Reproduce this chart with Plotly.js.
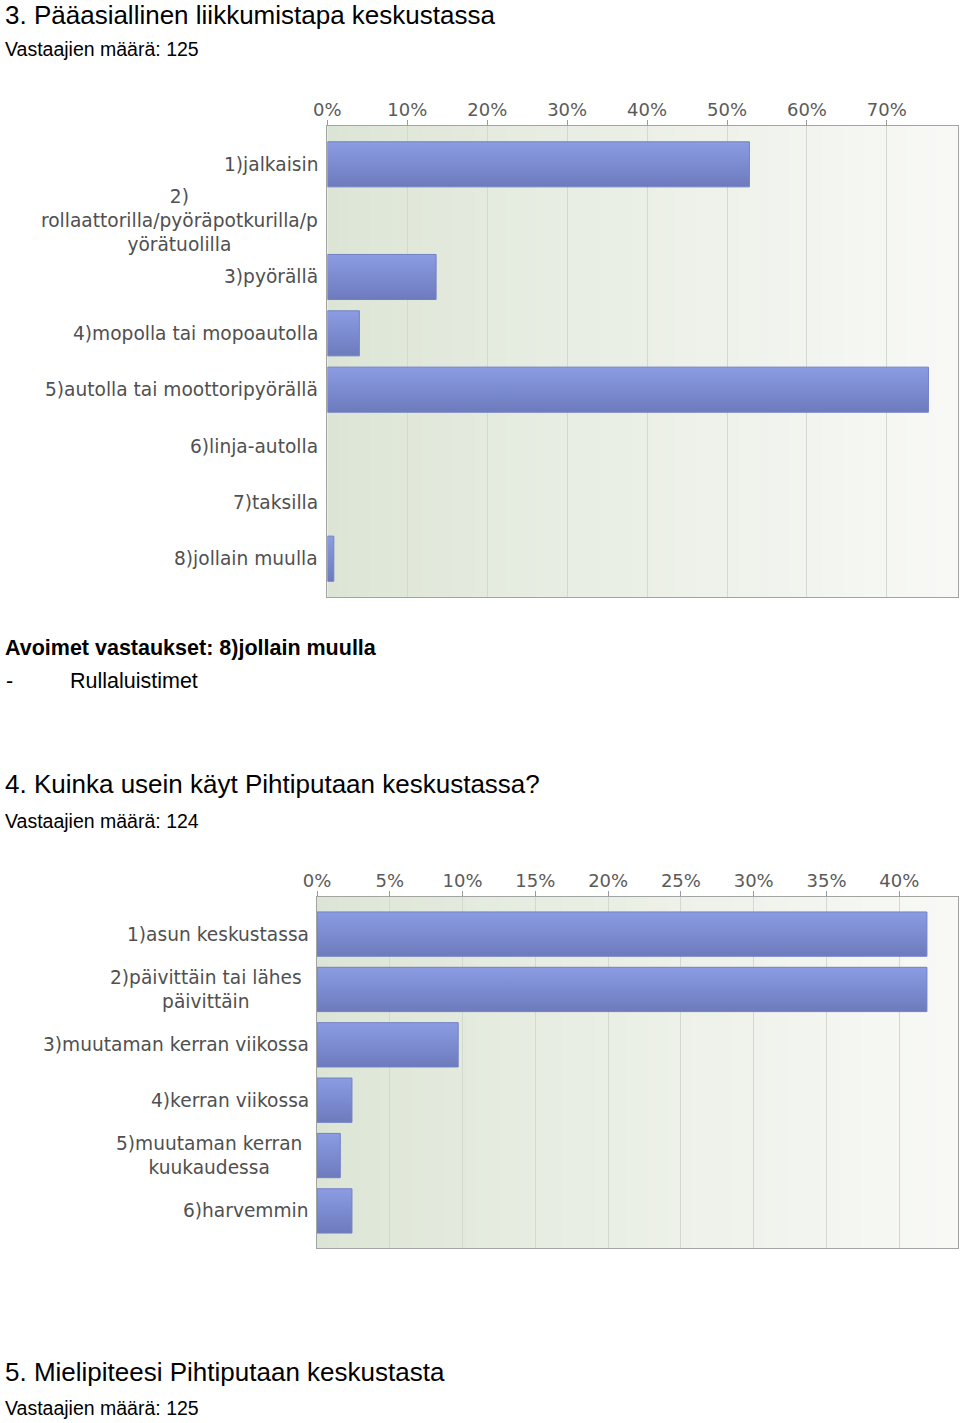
<!DOCTYPE html>
<html>
<head>
<meta charset="utf-8">
<script src="https://cdn.plot.ly/plotly-3.0.1.min.js"></script>
<style>
  html, body { margin: 0; padding: 0; background: #fff; }
  #chart { width: 960px; height: 1423px; }
</style>
</head>
<body>
<div id="chart"></div>
<script>
// ---------- DATA ----------
const modeLabels = [
  '1)jalkaisin',
  '2)<br>rollaattorilla/pyöräpotkurilla/p<br>yörätuolilla',
  '3)pyörällä',
  '4)mopolla tai mopoautolla',
  '5)autolla tai moottoripyörällä',
  '6)linja-autolla',
  '7)taksilla',
  '8)jollain muulla'
];
const modePercent = [52.8, 0, 13.6, 4.0, 75.2, 0, 0, 0.8];

const freqLabels = [
  '1)asun keskustassa',
  '2)päivittäin tai lähes<br>päivittäin',
  '3)muutaman kerran viikossa',
  '4)kerran viikossa',
  '5)muutaman kerran<br>kuukaudessa',
  '6)harvemmin'
];
const freqPercent = [41.9, 41.9, 9.7, 2.4, 1.6, 2.4];

const pageTexts = [
  '3. Pääasiallinen liikkumistapa keskustassa',
  'Vastaajien määrä: 125',
  'Avoimet vastaukset: 8)jollain muulla',
  '-',
  'Rullaluistimet',
  '4. Kuinka usein käyt Pihtiputaan keskustassa?',
  'Vastaajien määrä: 124',
  '5. Mielipiteesi Pihtiputaan keskustasta',
  'Vastaajien määrä: 125'
];

// ---------- LAYOUT HELPERS ----------
const W = 960, H = 1423;
const px = x => x / W;
const py = y => 1 - y / H;

const barColor = '#7d8bd3';
const labelFont = { family: 'DejaVu Sans, Verdana, sans-serif', size: 18.6, color: '#505050' };
const textFamily = 'Liberation Sans, Arial, Helvetica, sans-serif';

const traces = [
  {
    type: 'bar', orientation: 'h',
    x: modePercent, y: modeLabels,
    xaxis: 'x', yaxis: 'y',
    width: 0.8,
    marker: { color: barColor, line: { width: 0 } },
    hoverinfo: 'x+y'
  },
  {
    type: 'bar', orientation: 'h',
    x: freqPercent, y: freqLabels,
    xaxis: 'x2', yaxis: 'y2',
    width: 0.8,
    marker: { color: barColor, line: { width: 0 } },
    hoverinfo: 'x+y'
  }
];

function xAxis(domain, range, dtick, anchor) {
  return {
    domain: domain, range: range, dtick: dtick, tick0: 0,
    side: 'top', anchor: anchor,
    ticksuffix: '%',
    ticks: 'outside', ticklen: 5, tickcolor: '#9a9a9a', tickwidth: 1,
    ticklabelstandoff: -3,
    tickfont: { family: 'DejaVu Sans, Verdana, sans-serif', size: 18, color: '#5a5a5a' },
    showgrid: true, gridcolor: '#d3d9cf', gridwidth: 1,
    showline: true, mirror: true, linecolor: '#a3a3a3', linewidth: 1,
    zeroline: false, fixedrange: true
  };
}
function yAxis(domain, cats, pad, anchor) {
  return {
    domain: domain, anchor: anchor,
    type: 'category', categoryorder: 'array', categoryarray: cats,
    range: [cats.length - 1 + pad, -pad],
    showticklabels: false, ticks: '',
    showgrid: false, zeroline: false,
    showline: true, mirror: true, linecolor: '#a3a3a3', linewidth: 1,
    fixedrange: true
  };
}

const dom1x = [px(327.4), px(958)], dom1y = [py(597), py(126)];
const dom2x = [px(317), px(957.5)], dom2y = [py(1248), py(897)];

// background gradient of the plot areas (style only)
const shapes = [];
function gradient(xr, yr) {
  const N = 60;
  const c0 = [220, 229, 213], c1 = [248, 249, 246];
  for (let i = 0; i < N; i++) {
    const t = i / (N - 1);
    const c = c0.map((v, k) => Math.round(v + (c1[k] - v) * Math.pow(t, 0.9)));
    shapes.push({
      type: 'rect', xref: xr + ' domain', yref: yr + ' domain', layer: 'below',
      x0: i / N, x1: (i + 1) / N + 0.002, y0: 0, y1: 1,
      fillcolor: 'rgb(' + c.join(',') + ')', line: { width: 0 }
    });
  }
}
gradient('x', 'y');
gradient('x2', 'y2');

const annotations = [];
// category labels (centered multi-line, right-aligned against the plot)
modeLabels.forEach(c => annotations.push({
  xref: 'paper', yref: 'y', x: dom1x[0], y: c, xanchor: 'right', yanchor: 'middle',
  xshift: -8, text: c, showarrow: false, align: 'center', font: labelFont, borderpad: 0
}));
freqLabels.forEach(c => annotations.push({
  xref: 'paper', yref: 'y2', x: dom2x[0], y: c, xanchor: 'right', yanchor: 'middle',
  xshift: c.indexOf('<br>') >= 0 ? -14 : -7,
  text: c, showarrow: false, align: 'center', font: labelFont, borderpad: 0
}));

// page texts: [index, x, baseline, size, bold]
const textPlacement = [
  [0, 4, 23, 26, false],
  [1, 4, 55, 19.5, false],
  [2, 4, 654, 21.5, true],
  [3, 5, 687, 21.5, false],
  [4, 69, 687, 21.5, false],
  [5, 4, 792, 26, false],
  [6, 4, 827, 19.5, false],
  [7, 4, 1380, 26, false],
  [8, 4, 1414, 19.5, false]
];
textPlacement.forEach(([i, x, base, size, bold]) => annotations.push({
  xref: 'paper', yref: 'paper', x: px(x), y: py(base - 0.3 * size),
  xanchor: 'left', yanchor: 'middle', showarrow: false, borderpad: 0,
  text: bold ? '<b>' + pageTexts[i] + '</b>' : pageTexts[i],
  font: { family: textFamily, size: size, color: '#000' }
}));

const layout = {
  width: W, height: H,
  margin: { l: 0, r: 0, t: 0, b: 0 },
  paper_bgcolor: '#ffffff', plot_bgcolor: 'rgba(0,0,0,0)',
  showlegend: false, bargap: 0.2,
  xaxis: xAxis(dom1x, [0, 78.9], 10, 'y'),
  yaxis: yAxis(dom1y, modeLabels, 0.68, 'x'),
  xaxis2: xAxis(dom2x, [0, 44.0], 5, 'y2'),
  yaxis2: yAxis(dom2y, freqLabels, 0.67, 'x2'),
  shapes: shapes,
  annotations: annotations
};

Plotly.newPlot('chart', traces, layout, { displayModeBar: false, staticPlot: true }).then(gd => {
  // vertical gradient on the bars (fill style only)
  const svg = gd.querySelector('svg.main-svg');
  const ns = 'http://www.w3.org/2000/svg';
  let defs = svg.querySelector('defs');
  if (!defs) { defs = document.createElementNS(ns, 'defs'); svg.insertBefore(defs, svg.firstChild); }
  const lg = document.createElementNS(ns, 'linearGradient');
  lg.setAttribute('id', 'barGrad');
  lg.setAttribute('x1', '0'); lg.setAttribute('y1', '0');
  lg.setAttribute('x2', '0'); lg.setAttribute('y2', '1');
  [['0%', '#8b9ce3'], ['100%', '#6d7bbd']].forEach(([o, c]) => {
    const s = document.createElementNS(ns, 'stop');
    s.setAttribute('offset', o); s.setAttribute('stop-color', c);
    lg.appendChild(s);
  });
  defs.appendChild(lg);
  gd.querySelectorAll('.barlayer .point path').forEach(p => {
    p.style.fill = 'url(#barGrad)';
    p.style.stroke = '#7280c4';
    p.style.strokeWidth = '1px';
  });
});
</script>
</body>
</html>
